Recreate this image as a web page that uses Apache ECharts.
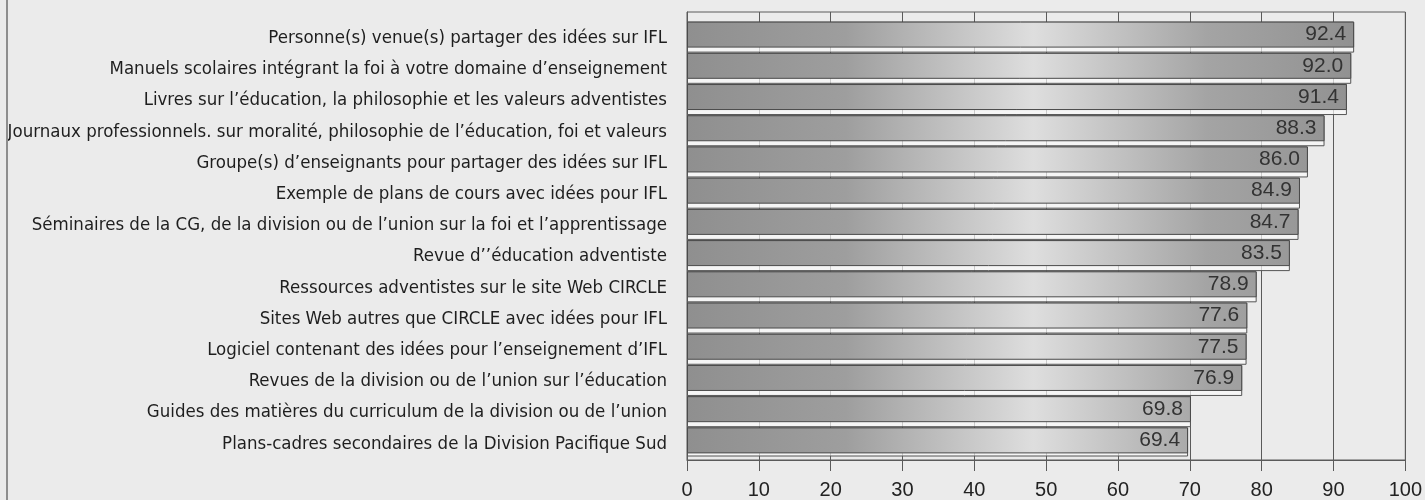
<!DOCTYPE html>
<html>
<head>
<meta charset="utf-8">
<script src="https://cdn.jsdelivr.net/npm/echarts@6/dist/echarts.min.js"></script>
<style>
  html, body { margin: 0; padding: 0; background: #ebebeb; }
  #chart { width: 1425px; height: 500px; position: relative; }
</style>
</head>
<body>
<div id="chart"></div>
<div id="frame" style="position:absolute;left:6px;top:0;height:500px;width:2px;background:#8e8e8e"></div>
<script>
const categories = [
  'Personne(s) venue(s) partager des idées sur IFL',
  'Manuels scolaires intégrant la foi à votre domaine d’enseignement',
  'Livres sur l’éducation, la philosophie et les valeurs adventistes',
  'Journaux professionnels. sur moralité, philosophie de l’éducation, foi et valeurs',
  'Groupe(s) d’enseignants pour partager des idées sur IFL',
  'Exemple de plans de cours avec idées pour IFL',
  'Séminaires de la CG, de la division ou de l’union sur la foi et l’apprentissage',
  'Revue d’’éducation adventiste',
  'Ressources adventistes sur le site Web CIRCLE',
  'Sites Web autres que CIRCLE avec idées pour IFL',
  'Logiciel contenant des idées pour l’enseignement d’IFL',
  'Revues de la division ou de l’union sur l’éducation',
  'Guides des matières du curriculum de la division ou de l’union',
  'Plans-cadres secondaires de la Division Pacifique Sud'
];
const values = [92.4, 92.0, 91.4, 88.3, 86.0, 84.9, 84.7, 83.5, 78.9, 77.6, 77.5, 76.9, 69.8, 69.4];
const xTicks = [0, 10, 20, 30, 40, 50, 60, 70, 80, 90, 100];

const chart = echarts.init(document.getElementById('chart'), null, { renderer: 'canvas' });

const X0 = 687, X1 = 1409;
const barFill = new echarts.graphic.LinearGradient(X0, 0, X1, 0, [
  { offset: 0, color: '#8f8f8f' },
  { offset: 0.22, color: '#9e9e9e' },
  { offset: 0.48, color: '#dedede' },
  { offset: 0.72, color: '#a4a4a4' },
  { offset: 1, color: '#8a8a8a' }
], true);

const fontSans = 'Liberation Sans, Arial, sans-serif';
const fontNarrow = 'Liberation Sans Narrow, DejaVu Sans Condensed, Arial Narrow, sans-serif';

chart.setOption({
  animation: false,
  grid: [
    // frame + value axis
    { left: X0, right: 1425 - X1, top: 12, bottom: 40, show: true, borderColor: '#5a5a5a', borderWidth: 1, backgroundColor: 'transparent' },
    // bars (slightly inset like the original)
    { left: X0, right: 1425 - X1, top: 19, bottom: 44 }
  ],
  xAxis: [
    {
      gridIndex: 0,
      type: 'value',
      min: 0,
      max: 100,
      interval: 10,
      axisLine: { show: true, lineStyle: { color: '#5a5a5a', width: 1 } },
      axisTick: { show: true, length: 11, lineStyle: { color: '#5a5a5a' } },
      axisLabel: {
        color: '#222', fontSize: 20, fontFamily: fontSans, margin: 20,
        formatter: v => xTicks.includes(v) ? String(v) : ''
      },
      splitLine: { show: true, lineStyle: { color: '#5a5a5a', width: 1 } }
    },
    { gridIndex: 1, type: 'value', min: 0, max: 100, show: false }
  ],
  yAxis: [
    {
      gridIndex: 0,
      type: 'value',
      axisLine: { show: true, lineStyle: { color: '#5a5a5a', width: 1 } },
      axisTick: { show: false },
      axisLabel: { show: false },
      splitLine: { show: false }
    },
    {
      gridIndex: 1,
      type: 'category',
      data: categories,
      inverse: true,
      axisLine: { show: false },
      axisTick: { show: false },
      axisLabel: {
        margin: 20,
        formatter: v => '{t|' + v + '}',
        rich: {
          t: { color: '#1e1e1e', fontSize: 18.5, fontFamily: fontNarrow, padding: [7, 0, 0, 0] }
        }
      }
    }
  ],
  series: [
    {
      // light strip between stacked bars
      type: 'bar',
      xAxisIndex: 1,
      yAxisIndex: 1,
      data: values,
      barWidth: 31,
      silent: true,
      itemStyle: { color: 'rgba(250,250,250,0.7)', borderColor: '#555', borderWidth: 1 },
      z: 1
    },
    {
      type: 'bar',
      xAxisIndex: 1,
      yAxisIndex: 1,
      data: values,
      barWidth: 26,
      barGap: '-100%',
      itemStyle: { color: barFill, borderColor: '#4a4a4a', borderWidth: 1 },
      label: {
        show: true,
        position: 'insideRight',
        distance: 8,
        color: '#333',
        fontSize: 21,
        fontFamily: fontSans,
        formatter: p => p.value.toFixed(1)
      },
      z: 3
    }
  ]
});
</script>
</body>
</html>
